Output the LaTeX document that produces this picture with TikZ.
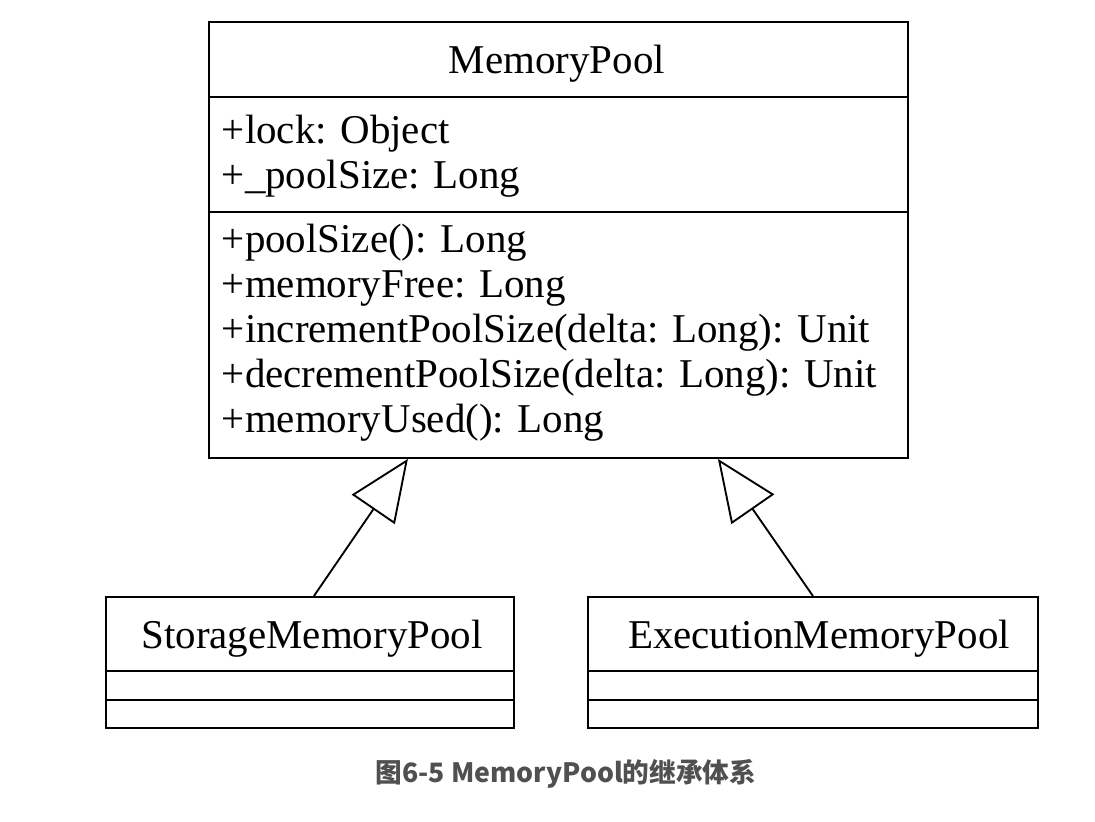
\documentclass[tikz,border=0pt]{standalone}
\usepackage{fontspec}
\setmainfont{Liberation Serif}
\newfontfamily\cjk{Noto Sans CJK SC}
\usetikzlibrary{arrows.meta}
\definecolor{capgray}{RGB}{80,80,80}
\begin{document}
\begin{tikzpicture}[x=0.75pt,y=-0.75pt,line width=1.4pt,
        classbox/.style={draw,inner sep=0,anchor=north west},
        member/.style={anchor=base west,inner sep=0,font=\fontsize{30.7}{36}\selectfont},
        classname/.style={anchor=base,inner sep=0,font=\fontsize{30.7}{36}\selectfont},
        inherit/.style={-{Triangle[open,length=46pt,width=39pt]}}]
    \useasboundingbox (0,0) rectangle (1095,821);
    \node[classbox,minimum width=524.25pt,minimum height=327pt] (pool) at (208,21) {};
    \draw (208,97) -- ++(699,0);
    \draw (208,212) -- ++(699,0);
    \node[classname] (poolName) at (557,73) {MemoryPool};
    \node[member] (lock) at (221,143) {+lock: Object};
    \node[member] (poolSizeVar) at (221,188) {+\_poolSize: Long};
    \node[member] (poolSizeFn) at (221,252) {+poolSize(): Long};
    \node[member] (memFree) at (221,297) {+memoryFree: Long};
    \node[member] (incSize) at (221,342) {+incrementPoolSize(delta: Long): Unit};
    \node[member] (decSize) at (221,387) {+decrementPoolSize(delta: Long): Unit};
    \node[member] (memUsed) at (221,432) {+memoryUsed(): Long};
    \node[classbox,minimum width=306pt,minimum height=98.25pt] (storage) at (105,596) {};
    \draw (105,671) -- ++(408,0);
    \draw (105,700) -- ++(408,0);
    \node[classname] (storageName) at (312,648) {StorageMemoryPool};
    \node[classbox,minimum width=337.5pt,minimum height=98.25pt] (execution) at (587,596) {};
    \draw (587,671) -- ++(450,0);
    \draw (587,700) -- ++(450,0);
    \node[classname] (executionName) at (819,648) {ExecutionMemoryPool};
    \draw[inherit] ([xshift=3pt]storage.north) -- ([xshift=-112.9pt]pool.south);
    \draw[inherit] (execution.north) -- ([xshift=119.6pt]pool.south);
    \node[font=\cjk\bfseries\fontsize{20}{24}\selectfont,text=capgray] (caption) at (566,774) {图6-5 MemoryPool的继承体系};
\end{tikzpicture}
\end{document}
